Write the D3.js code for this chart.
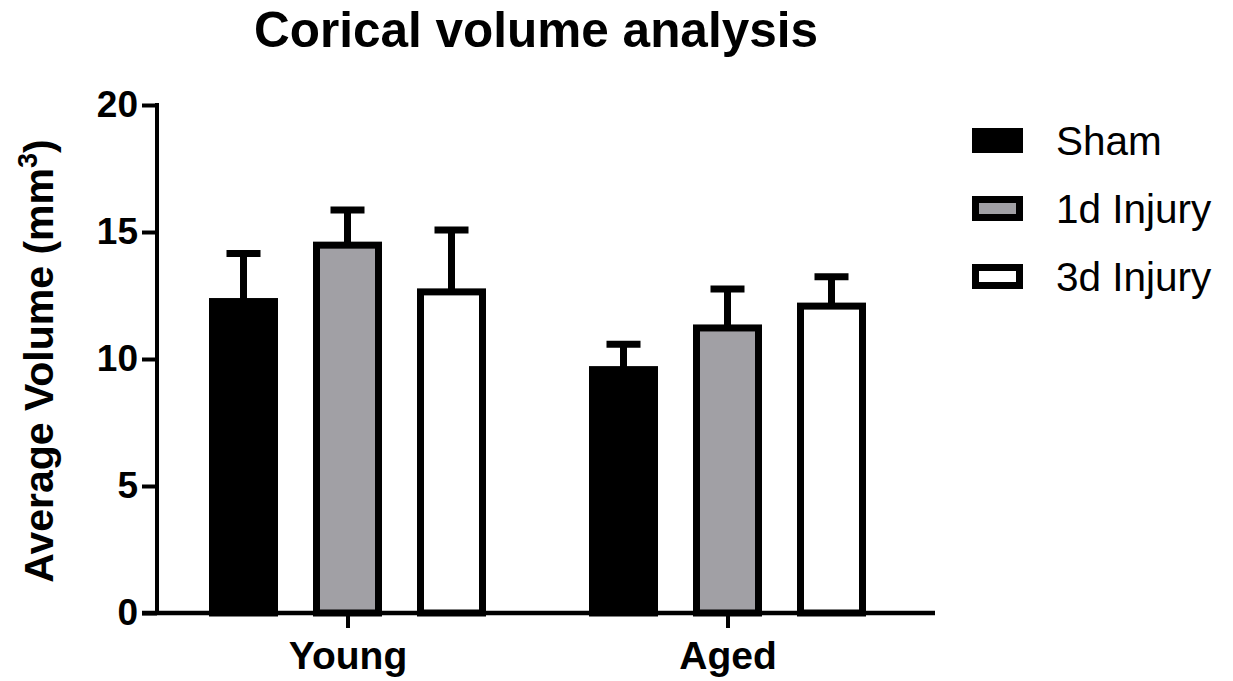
<!DOCTYPE html>
<html>
<head>
<meta charset="utf-8">
<script src="https://cdn.jsdelivr.net/npm/d3@7"></script>
<style>
  html, body { margin: 0; padding: 0; background: #fff; }
  svg { display: block; }
  text { font-family: "Liberation Sans", Arial, sans-serif; fill: #000; }
</style>
</head>
<body>
<svg id="chart" width="1233" height="681"></svg>
<script>
// ---- data ----
const groups = ["Young", "Aged"];
const series = ["Sham", "1d Injury", "3d Injury"];
const meanYoung = [12.4, 14.62, 12.78];
const meanAged = [9.72, 11.36, 12.22];
const semYoung = [1.75, 1.25, 2.3];
const semAged = [0.86, 1.40, 1.02];
const yTicks = [0, 5, 10, 15, 20];
const fills = ["#000000", "#a1a0a5", "#ffffff"];
const titleText = "Corical volume analysis";

const means = { Young: meanYoung, Aged: meanAged };
const sems = { Young: semYoung, Aged: semAged };

const svg = d3.select("#chart");
const SW = 7; // bar outline width

const y = d3.scaleLinear().domain([0, 20]).range([613, 105]);
const x0 = d3.scaleBand().domain(groups).range([157.5, 917.5]).padding(0);
const pad = 35 / 104;
const x1 = d3.scaleBand().domain(series)
  .range([x0.bandwidth() / 2 - 156, x0.bandwidth() / 2 + 156])
  .paddingInner(pad).paddingOuter(pad / 2);

// title
svg.append("text")
  .attr("x", 536).attr("y", 47)
  .attr("text-anchor", "middle")
  .attr("font-size", 49.5).attr("font-weight", "bold")
  .text(titleText);

// bars + errors
groups.forEach(g => {
  series.forEach((s, i) => {
    const m = means[g][i], e = sems[g][i];
    const bx = x0(g) + x1(s);
    const bw = x1.bandwidth();
    const cx = bx + bw / 2;
    svg.append("line")
      .attr("x1", cx).attr("x2", cx)
      .attr("y1", y(m) + 2).attr("y2", y(m + e))
      .attr("stroke", "#000").attr("stroke-width", SW);
    svg.append("line")
      .attr("x1", cx - 17).attr("x2", cx + 17)
      .attr("y1", y(m + e)).attr("y2", y(m + e))
      .attr("stroke", "#000").attr("stroke-width", SW);
    svg.append("rect")
      .attr("x", bx + SW / 2).attr("y", y(m) + SW / 2)
      .attr("width", bw - SW).attr("height", y(0) - y(m) - SW / 2)
      .attr("fill", fills[i]).attr("stroke", "#000").attr("stroke-width", SW);
  });
});

// y axis
const yAxis = d3.axisLeft(y).tickValues(yTicks).tickSize(15).tickPadding(4).tickFormat(d3.format("d"));
const gy = svg.append("g").attr("transform", "translate(157,0)").call(yAxis);
gy.select(".domain").remove();
gy.selectAll(".tick line").attr("stroke", "#000").attr("stroke-width", 4);
gy.selectAll(".tick text")
  .attr("font-size", 37).attr("font-weight", "bold")
  .attr("font-family", "Liberation Sans, Arial, sans-serif").attr("fill", "#000");
gy.append("line").attr("x1", 0).attr("x2", 0).attr("y1", y(20) - 2).attr("y2", y(0))
  .attr("stroke", "#000").attr("stroke-width", 4);

// x axis
const xAxis = d3.axisBottom(d3.scalePoint().domain(groups).range([x0("Young") + x0.bandwidth() / 2, x0("Aged") + x0.bandwidth() / 2]))
  .tickSize(15).tickPadding(13);
const gx = svg.append("g").attr("transform", `translate(0,${y(0)})`).call(xAxis);
gx.select(".domain").remove();
gx.selectAll(".tick line").attr("stroke", "#000").attr("stroke-width", 4);
gx.selectAll(".tick text")
  .attr("font-size", 39).attr("font-weight", "bold")
  .attr("font-family", "Liberation Sans, Arial, sans-serif").attr("fill", "#000");
gx.append("line").attr("x1", 142).attr("x2", 935).attr("y1", 0).attr("y2", 0)
  .attr("stroke", "#000").attr("stroke-width", 4.5);

// y label
const yl = svg.append("text")
  .attr("transform", `translate(53,${(y(0) + y(20)) / 2 + 2}) rotate(-90)`)
  .attr("text-anchor", "middle")
  .attr("font-size", 41).attr("font-weight", "bold");
yl.append("tspan").text("Average Volume (mm");
yl.append("tspan").attr("font-size", 27).attr("dy", -16).text("3");
yl.append("tspan").attr("dy", 16).text(")");

// legend
const leg = svg.append("g");
series.forEach((s, i) => {
  const cy = 140.5 + i * 68;
  leg.append("rect")
    .attr("x", 972 + SW / 2).attr("y", cy - 12.5 + SW / 2)
    .attr("width", 51 - SW).attr("height", 25 - SW)
    .attr("fill", fills[i]).attr("stroke", "#000").attr("stroke-width", SW);
  leg.append("text")
    .attr("x", 1056).attr("y", cy + 14)
    .attr("font-size", 40.5)
    .text(s);
});
</script>
</body>
</html>
